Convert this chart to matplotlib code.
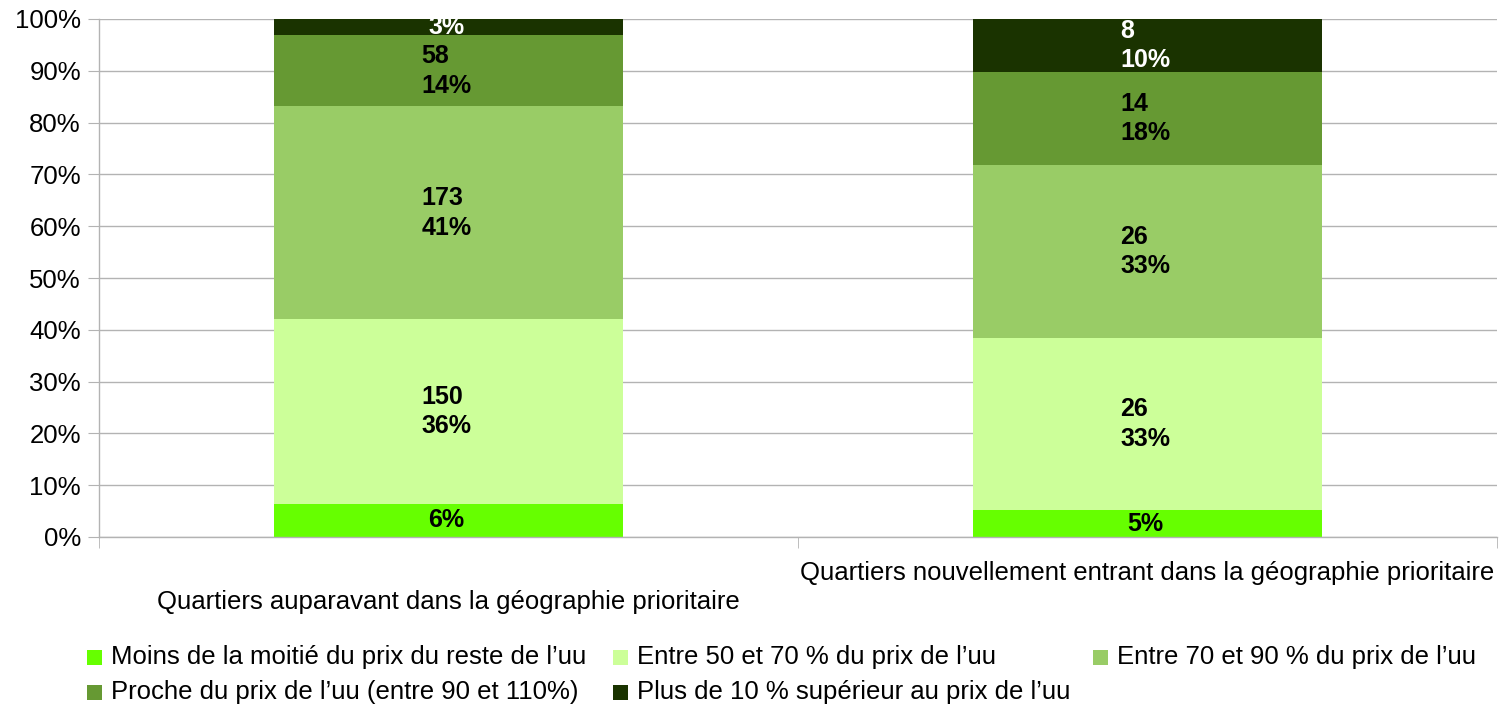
import matplotlib
matplotlib.use("Agg")
import matplotlib.pyplot as plt
from matplotlib.patches import Rectangle

plt.rcParams['font.family'] = ['Liberation Sans', 'DejaVu Sans']

categories = ["Quartiers auparavant dans la géographie prioritaire",
              "Quartiers nouvellement entrant dans la géographie prioritaire"]
series_names = ["Moins de la moitié du prix du reste de l\u2019uu",
                "Entre 50 et 70 % du prix de l\u2019uu",
                "Entre 70 et 90 % du prix de l\u2019uu",
                "Proche du prix de l\u2019uu (entre 90 et 110%)",
                "Plus de 10 % supérieur au prix de l\u2019uu"]
# counts per series, per category
moins_moitie = [27, 4]
entre_50_70 = [150, 26]
entre_70_90 = [173, 26]
proche = [58, 14]
plus_10 = [13, 8]
series_counts = [moins_moitie, entre_50_70, entre_70_90, proche, plus_10]
colors = ["#66ff00", "#ccff99", "#99cc66", "#669933", "#1a3300"]
label_colors = ["black", "black", "black", "black", "white"]
y_ticks = [0, 10, 20, 30, 40, 50, 60, 70, 80, 90, 100]

W, H = 1499, 707
fig = plt.figure(figsize=(W / 100, H / 100), dpi=100)
ax = fig.add_axes([99 / W, 1 - 537 / H, (1497 - 99) / W, (537 - 19) / H])

totals = [sum(s[i] for s in series_counts) for i in range(len(categories))]
x = list(range(len(categories)))
bottoms = [0.0] * len(categories)
for si, counts in enumerate(series_counts):
    pcts = [100.0 * c / t for c, t in zip(counts, totals)]
    ax.bar(x, pcts, width=0.5, bottom=bottoms, color=colors[si], zorder=2)
    for i in x:
        p = pcts[i]
        txt = f"{round(p)}%"
        if p >= 8:
            txt = f"{counts[i]}\n{txt}"
        ax.text(i - 0.003, bottoms[i] + p / 2, txt, ha='center', va='center',
                multialignment='left', fontsize=18, fontweight='bold',
                color=label_colors[si], zorder=3, linespacing=1.3)
    bottoms = [b + p for b, p in zip(bottoms, pcts)]

ax.set_xlim(-0.5, len(categories) - 0.5)
ax.set_ylim(0, 100)
ax.set_yticks(y_ticks)
ax.set_yticklabels([f"{t}%" for t in y_ticks], fontsize=18.5)
ax.yaxis.grid(True, color="#b3b3b3", linewidth=1, zorder=0)
ax.set_axisbelow(True)
for s in ['top', 'right']:
    ax.spines[s].set_visible(False)
for s in ['left', 'bottom']:
    ax.spines[s].set_color("#b3b3b3")
    ax.spines[s].set_linewidth(1)
ax.tick_params(axis='y', length=8, color="#b3b3b3", pad=5, labelcolor="black")

ax.set_xticks(x)
ax.set_xticklabels([("\n" if i % 2 == 0 else "") + c for i, c in enumerate(categories)],
                   fontsize=18.5, linespacing=1.3)
ax.tick_params(axis='x', which='major', length=0, pad=17)
ax.set_xticks([i - 0.5 for i in range(len(categories) + 1)], minor=True)
ax.tick_params(axis='x', which='minor', length=8, color="#b3b3b3")

# legend, laid out as in the reference (3 items on the first row, 2 on the second)
leg_pos = [(87, 657), (613, 657), (1093, 657), (87, 692), (613, 692)]
sq = 15
for (px, py), c, name in zip(leg_pos, colors, series_names):
    fig.patches.append(Rectangle((px / W, 1 - (py + sq / 2) / H), sq / W, sq / H,
                                 transform=fig.transFigure, facecolor=c,
                                 edgecolor='none'))
    fig.text((px + sq + 9) / W, 1 - py / H, name, fontsize=18.5,
             ha='left', va='center')

fig.savefig("out.png", dpi=100)
